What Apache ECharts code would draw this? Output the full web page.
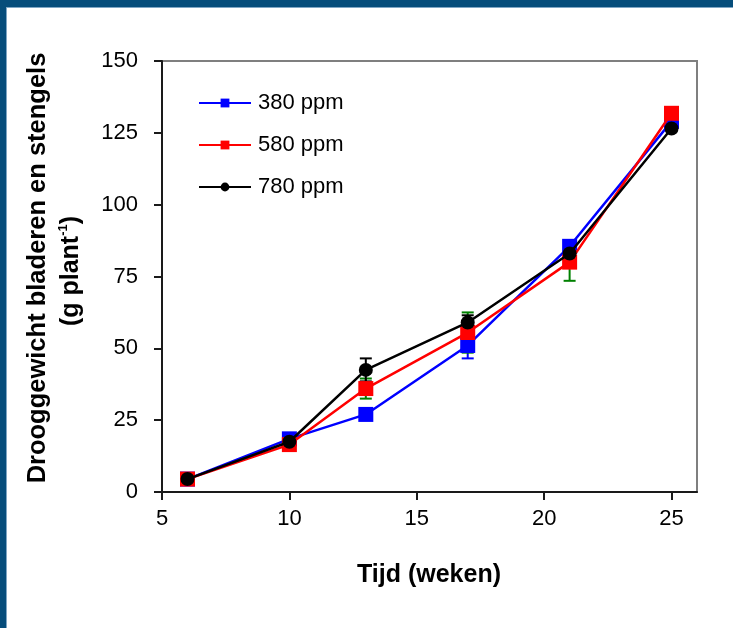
<!DOCTYPE html>
<html>
<head>
<meta charset="utf-8">
<script src="https://cdn.jsdelivr.net/npm/echarts@6/dist/echarts.min.js"></script>
<style>
  html, body { margin: 0; padding: 0; background: #ffffff; }
  #chart { width: 733px; height: 628px; }
</style>
</head>
<body>
<div id="chart"></div>
<script>
// Dry weight of leaves and stems over time for three CO2 levels
const weeks = [6, 10, 13, 17, 21, 25];
const ppm380 = [4.5, 18.5, 27, 51, 85.5, 129];
const ppm580 = [4.5, 16.5, 36, 55.5, 80, 131.8];
const ppm780 = [4.5, 17.5, 42.5, 59, 83, 126.5];
// standard errors
const err380 = [0.5, 1, 1.5, 4.5, 2, 1];
const err580 = [0.5, 1, 3.5, 7, 6.5, 1];
const err780 = [0.5, 1, 4, 2.5, 2, 1];

const seriesNames = ['380 ppm', '580 ppm', '780 ppm'];
const xTicks = [5, 10, 15, 20, 25];

const FONT = 'Arial, "Liberation Sans", Helvetica, sans-serif';

function pairs(ys) { return weeks.map((w, i) => [w, ys[i]]); }
function triples(ys, es) { return weeks.map((w, i) => [w, ys[i], es[i]]); }

function errorBars(color) {
  return function (params, api) {
    const x = api.value(0), y = api.value(1), e = api.value(2);
    const top = api.coord([x, y + e]);
    const bot = api.coord([x, y - e]);
    const w = 6;
    const st = { stroke: color, lineWidth: 2 };
    return {
      type: 'group',
      children: [
        { type: 'line', shape: { x1: top[0], y1: top[1], x2: bot[0], y2: bot[1] }, style: st },
        { type: 'line', shape: { x1: top[0] - w, y1: top[1], x2: top[0] + w, y2: top[1] }, style: st },
        { type: 'line', shape: { x1: bot[0] - w, y1: bot[1], x2: bot[0] + w, y2: bot[1] }, style: st }
      ]
    };
  };
}

function lineSeries(name, ys, color, symbol, size, z) {
  return {
    name: name,
    type: 'line',
    data: pairs(ys),
    symbol: symbol,
    symbolSize: size,
    showAllSymbol: true,
    lineStyle: { color: color, width: 2.5 },
    itemStyle: { color: color, borderWidth: 0 },
    emphasis: { disabled: true },
    animation: false,
    z: z
  };
}

function errSeries(ys, es, color) {
  return {
    type: 'custom',
    data: triples(ys, es),
    renderItem: errorBars(color),
    encode: { x: 0, y: 1 },
    silent: true,
    animation: false,
    z: 1
  };
}

const chart = echarts.init(document.getElementById('chart'), null, { renderer: 'canvas' });

chart.setOption({
  backgroundColor: '#ffffff',
  animation: false,
  grid: {
    left: 162, top: 61, right: 36, bottom: 136,
    show: true, borderColor: '#7f7f7f', borderWidth: 2, backgroundColor: 'transparent'
  },
  legend: {
    data: seriesNames,
    orient: 'vertical',
    left: 198,
    top: 92,
    padding: 0,
    itemWidth: 52,
    itemHeight: 11,
    itemGap: 20,
    selectedMode: false,
    textStyle: { fontFamily: FONT, fontSize: 22, color: '#000000', padding: [0, 0, 0, 2] }
  },
  xAxis: {
    type: 'value',
    min: 5, max: 26, interval: 5,
    splitLine: { show: false },
    axisLine: { show: true, onZero: false, lineStyle: { color: '#1a1a1a', width: 2 } },
    axisTick: { show: true, inside: false, length: 8, customValues: xTicks, lineStyle: { color: '#1a1a1a', width: 2 } },
    axisLabel: { customValues: xTicks, margin: 16, color: '#000000', fontFamily: FONT, fontSize: 22 }
  },
  yAxis: {
    type: 'value',
    min: 0, max: 150, interval: 25,
    splitLine: { show: false },
    axisLine: { show: true, onZero: false, lineStyle: { color: '#1a1a1a', width: 2 } },
    axisTick: { show: true, inside: false, length: 8, lineStyle: { color: '#1a1a1a', width: 2 } },
    axisLabel: { margin: 24, color: '#000000', fontFamily: FONT, fontSize: 22 }
  },
  graphic: [
    { type: 'rect', left: 0, top: 0, shape: { width: 733, height: 7 }, style: { fill: '#064d7b' }, z: 100 },
    { type: 'rect', left: 0, top: 0, shape: { width: 6, height: 628 }, style: { fill: '#064d7b' }, z: 100 },
    { type: 'rect', left: 6, top: 7, shape: { width: 727, height: 1 }, style: { fill: '#7fa6c4' }, z: 100 },
    { type: 'rect', left: 6, top: 7, shape: { width: 1, height: 621 }, style: { fill: '#7fa6c4' }, z: 100 },
    {
      type: 'text', x: 38, y: 268, rotation: Math.PI / 2,
      style: {
        text: 'Drooggewicht bladeren en stengels',
        font: 'bold 25.5px ' + FONT, fill: '#000000',
        textAlign: 'center', textVerticalAlign: 'middle', align: 'center', verticalAlign: 'middle'
      }
    },
    {
      type: 'text', x: 71, y: 271, rotation: Math.PI / 2,
      style: {
        text: '{a|(g plant}{s|-1}{a|)}',
        rich: {
          a: { fontFamily: FONT, fontWeight: 'bold', fontSize: 25, fill: '#000000', lineHeight: 28 },
          s: { fontFamily: FONT, fontWeight: 'bold', fontSize: 13, fill: '#000000', lineHeight: 28, verticalAlign: 'top' }
        },
        textAlign: 'center', textVerticalAlign: 'middle', align: 'center', verticalAlign: 'middle'
      }
    },
    {
      type: 'text', x: 429, y: 575,
      style: {
        text: 'Tijd (weken)',
        font: 'bold 25px ' + FONT, fill: '#000000',
        textAlign: 'center', textVerticalAlign: 'middle', align: 'center', verticalAlign: 'middle'
      }
    }
  ],
  series: [
    errSeries(ppm380, err380, '#0000ff'),
    errSeries(ppm580, err580, '#008000'),
    errSeries(ppm780, err780, '#000000'),
    lineSeries(seriesNames[0], ppm380, '#0000ff', 'rect', 15, 2),
    lineSeries(seriesNames[1], ppm580, '#ff0000', 'rect', 15, 3),
    lineSeries(seriesNames[2], ppm780, '#000000', 'circle', 14, 4)
  ]
});
</script>
</body>
</html>
